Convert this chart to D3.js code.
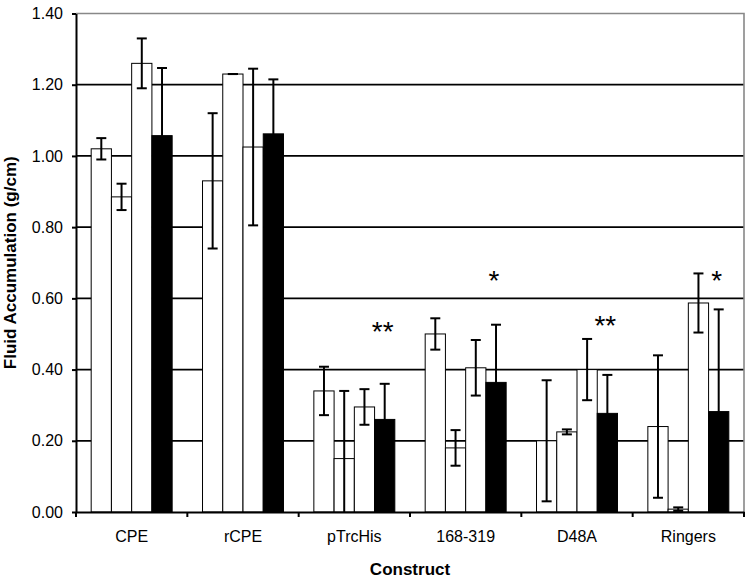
<!DOCTYPE html>
<html lang="en">
  <head>
    <meta charset="utf-8" />
    <title>Fluid Accumulation by Construct</title>
    <script src="https://d3js.org/d3.v7.min.js" charset="utf-8"></script>
    <style>
      body { margin: 0; background: #fff; }
      svg { display: block; font-family: "Liberation Sans", Arial, sans-serif; }
    </style>
  </head>
  <body>
    <div id="chart"></div>
    <script type="text/javascript">
      // data
      const categories = ["CPE", "rCPE", "pTrcHis", "168-319", "D48A", "Ringers"];
      const bar1 = [1.02, 0.93, 0.34, 0.5, 0.2, 0.24];
      const bar2 = [0.885, 1.23, 0.15, 0.18, 0.225, 0.008];
      const bar3 = [1.26, 1.025, 0.295, 0.405, 0.4, 0.587];
      const bar4 = [1.057, 1.062, 0.26, 0.364, 0.277, 0.282];
      const err1 = [0.03, 0.19, 0.068, 0.044, 0.17, 0.2];
      const err2 = [0.037, 0, 0.19, 0.05, 0.007, 0.005];
      const err3 = [0.07, 0.22, 0.05, 0.078, 0.086, 0.083];
      const err4 = [0.19, 0.153, 0.1, 0.162, 0.108, 0.287];
      const yTicks = [0, 0.2, 0.4, 0.6, 0.8, 1.0, 1.2, 1.4];
      const starCats = ["pTrcHis", "168-319", "D48A", "Ringers"];
      const starLabels = ["**", "*", "**", "*"];
      const starY = [0.528, 0.673, 0.545, 0.673];

      const cW = 750,
        cH = 578,
        margin = { top: 13.5, right: 6, bottom: 66, left: 76 };
      const innerW = cW - margin.left - margin.right,
        innerH = cH - margin.top - margin.bottom;

      const series = [
        { values: bar1, errors: err1, fill: "#fff" },
        { values: bar2, errors: err2, fill: "#fff" },
        { values: bar3, errors: err3, fill: "#fff" },
        { values: bar4, errors: err4, fill: "#000" },
      ];

      const svg = d3
        .select("#chart")
        .append("svg")
        .attr("width", cW)
        .attr("height", cH);
      const g = svg
        .append("g")
        .attr("transform", `translate(${margin.left},${margin.top})`);

      const x0 = d3.scaleBand().domain(categories).range([0, innerW]).padding(0);
      const x1 = d3
        .scaleBand()
        .domain(d3.range(series.length))
        .range([0, x0.bandwidth()])
        .paddingInner(0)
        .paddingOuter(0.75);
      const y = d3.scaleLinear().domain([0, 1.4]).range([innerH, 0]);

      //gridlines
      g.append("g")
        .selectAll("line")
        .data(yTicks.filter((d) => d > 0 && d < 1.4))
        .join("line")
        .attr("x1", 0)
        .attr("x2", innerW)
        .attr("y1", (d) => y(d))
        .attr("y2", (d) => y(d))
        .attr("stroke", "#000")
        .attr("stroke-width", 1.8);

      // grey plot border, top and right
      g.append("path")
        .attr("d", `M0,${y(1.4)}H${innerW}V${innerH}`)
        .attr("fill", "none")
        .attr("stroke", "#888")
        .attr("stroke-width", 1.6);

      //bars
      series.forEach((s, i) => {
        g.append("g")
          .selectAll("rect")
          .data(categories)
          .join("rect")
          .attr("x", (c) => x0(c) + x1(i))
          .attr("width", x1.bandwidth())
          .attr("y", (c, j) => y(s.values[j]))
          .attr("height", (c, j) => innerH - y(s.values[j]))
          .attr("fill", s.fill)
          .attr("stroke", "#000")
          .attr("stroke-width", 1);
      });

      //error bars
      const cap = 5;
      series.forEach((s, i) => {
        const lo = s.values.map((v, j) => v - s.errors[j]);
        const hi = s.values.map((v, j) => v + s.errors[j]);
        const eb = g
          .append("g")
          .attr("stroke", "#000")
          .attr("stroke-width", 2)
          .selectAll("g")
          .data(categories)
          .join("g")
          .attr("transform", (c) => `translate(${x0(c) + x1(i) + x1.bandwidth() / 2},0)`);
        eb.append("line")
          .attr("y1", (c, j) => y(hi[j]))
          .attr("y2", (c, j) => y(Math.max(0, lo[j])));
        eb.append("line")
          .attr("x1", -cap)
          .attr("x2", cap)
          .attr("y1", (c, j) => y(hi[j]))
          .attr("y2", (c, j) => y(hi[j]));
        eb.filter((c, j) => lo[j] >= 0)
          .append("line")
          .attr("x1", -cap)
          .attr("x2", cap)
          .attr("y1", (c) => y(lo[categories.indexOf(c)]))
          .attr("y2", (c) => y(lo[categories.indexOf(c)]));
      });

      //significance stars over the black bar
      g.append("g")
        .selectAll("text")
        .data(starCats)
        .join("text")
        .attr("x", (c) => x0(c) + x1(3) + x1.bandwidth() / 2 - 2)
        .attr("y", (c, i) => y(starY[i]))
        .attr("dy", "0.62em")
        .attr("text-anchor", "middle")
        .attr("font-size", 28)
        .text((c, i) => starLabels[i]);

      //y axis
      const yAxis = g
        .append("g")
        .call(
          d3
            .axisLeft(y)
            .tickValues(yTicks)
            .tickFormat(d3.format(".2f"))
            .tickSize(4)
            .tickSizeOuter(0)
            .tickPadding(9)
        );
      yAxis.selectAll("line, path").attr("stroke", "#000").attr("stroke-width", 2);
      yAxis.selectAll("text").attr("font-size", 16).attr("fill", "#000").attr("font-family", null);

      //x axis
      const xAxis = g
        .append("g")
        .attr("transform", `translate(0,${innerH})`)
        .call(d3.axisBottom(x0).tickSize(0).tickSizeOuter(0).tickPadding(19));
      xAxis.select("path").attr("stroke", "#000").attr("stroke-width", 2);
      xAxis.selectAll("text").attr("font-size", 16).attr("fill", "#000").attr("font-family", null);
      xAxis
        .selectAll(".bound")
        .data(categories.map((c) => x0(c)).concat([innerW]))
        .join("line")
        .attr("class", "bound")
        .attr("x1", (d) => d)
        .attr("x2", (d) => d)
        .attr("y1", 0)
        .attr("y2", 5)
        .attr("stroke", "#000")
        .attr("stroke-width", 2);

      //axis titles
      svg
        .append("text")
        .attr("x", margin.left + innerW / 2)
        .attr("y", 575)
        .attr("text-anchor", "middle")
        .attr("font-size", 17)
        .attr("font-weight", "bold")
        .text("Construct");
      svg
        .append("text")
        .attr("transform", `translate(16,${margin.top + innerH / 2}) rotate(-90)`)
        .attr("text-anchor", "middle")
        .attr("font-size", 17)
        .attr("font-weight", "bold")
        .text("Fluid Accumulation (g/cm)");
    </script>
  </body>
</html>
